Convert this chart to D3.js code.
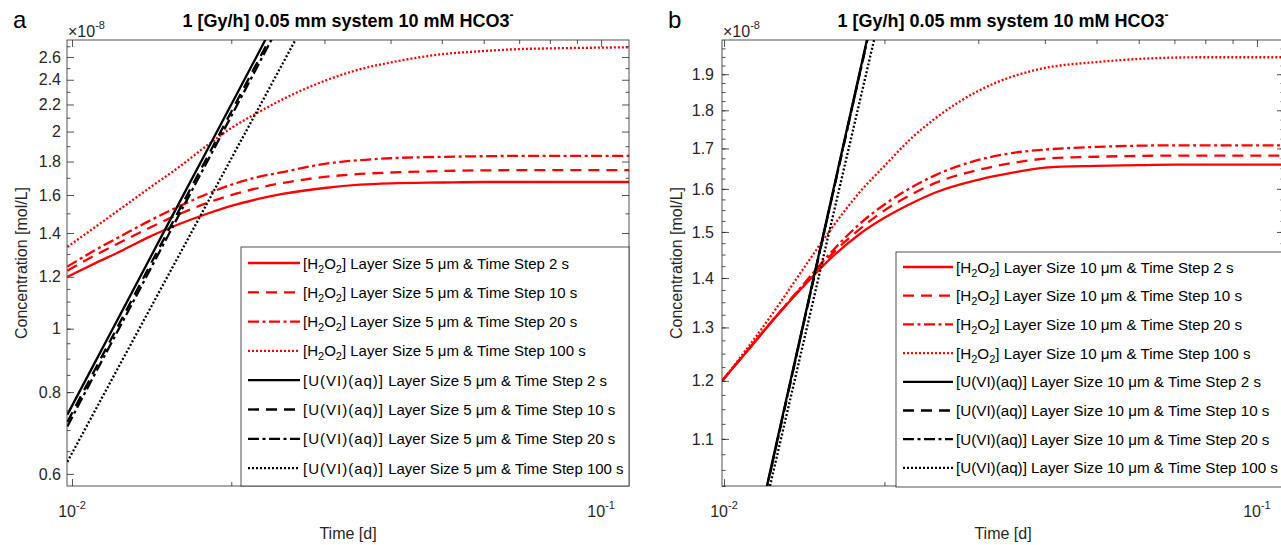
<!DOCTYPE html>
<html>
<head>
<meta charset="utf-8">
<script src="https://cdn.jsdelivr.net/npm/d3@7"></script>
<style>
  body { margin: 0; background: #fff; overflow: hidden; }
  svg { display: block; font-family: "Liberation Sans", Arial, Helvetica, sans-serif; }
</style>
</head>
<body>
<svg id="chart" width="1281" height="545"></svg>
<script>
// ---- data (concentrations in units of 1e-8 mol/L, time in days) ----
const timeSteps = [2, 10, 20, 100];
const layerSizes = ["5", "10"];

// panel a : 5 um layer
const tRedA = [0.0098, 0.011, 0.0125, 0.014, 0.016, 0.018, 0.02, 0.0225, 0.025, 0.03, 0.035, 0.04, 0.05, 0.06, 0.07, 0.08, 0.1, 0.113];
const h2o2A_2 = [1.200, 1.256, 1.319, 1.381, 1.446, 1.498, 1.540, 1.578, 1.606, 1.640, 1.659, 1.667, 1.672, 1.675, 1.675, 1.675, 1.675, 1.675];
const h2o2A_10 = [1.226, 1.292, 1.362, 1.425, 1.498, 1.556, 1.600, 1.640, 1.669, 1.705, 1.723, 1.732, 1.741, 1.745, 1.746, 1.746, 1.746, 1.746];
const h2o2A_20 = [1.244, 1.315, 1.391, 1.461, 1.540, 1.606, 1.659, 1.705, 1.734, 1.785, 1.809, 1.821, 1.830, 1.834, 1.836, 1.836, 1.836, 1.836];
const h2o2A_100 = [1.333, 1.425, 1.535, 1.640, 1.770, 1.905, 2.025, 2.140, 2.240, 2.390, 2.490, 2.550, 2.625, 2.655, 2.673, 2.680, 2.687, 2.690];

const tBlackA = [0.0098, 0.011, 0.0125, 0.015, 0.0175, 0.02, 0.0225, 0.025];
const uA_2 = [0.739, 0.882, 1.072, 1.418, 1.794, 2.200, 2.635, 3.100];
const uA_10 = [0.720, 0.860, 1.045, 1.383, 1.749, 2.145, 2.569, 3.020];
const uA_20 = [0.709, 0.847, 1.029, 1.361, 1.722, 2.112, 2.530, 2.976];
const tBlackA_100 = [0.0098, 0.011, 0.0125, 0.015, 0.0175, 0.02, 0.0225, 0.025, 0.0275];
const uA_100 = [0.626, 0.744, 0.901, 1.183, 1.489, 1.819, 2.168, 2.539, 2.928];

// panel b : 10 um layer
const tRedB = [0.00992, 0.011, 0.0125, 0.014, 0.016, 0.018, 0.02, 0.0225, 0.025, 0.03, 0.035, 0.04, 0.05, 0.06, 0.07, 0.08, 0.1, 0.113];
const h2o2B_2 = [1.200, 1.252, 1.320, 1.379, 1.446, 1.496, 1.532, 1.566, 1.592, 1.622, 1.640, 1.652, 1.656, 1.658, 1.659, 1.659, 1.659, 1.659];
const h2o2B_10 = [1.200, 1.253, 1.321, 1.381, 1.453, 1.507, 1.549, 1.587, 1.615, 1.646, 1.664, 1.674, 1.679, 1.681, 1.682, 1.682, 1.682, 1.682];
const h2o2B_20 = [1.200, 1.253, 1.321, 1.383, 1.459, 1.519, 1.563, 1.604, 1.634, 1.671, 1.689, 1.697, 1.704, 1.707, 1.708, 1.708, 1.708, 1.708];
const h2o2B_100 = [1.200, 1.257, 1.336, 1.415, 1.512, 1.593, 1.656, 1.727, 1.780, 1.853, 1.895, 1.918, 1.935, 1.944, 1.948, 1.949, 1.949, 1.949];

const tBlackB = [0.0115, 0.0125, 0.014, 0.016, 0.018, 0.0195];
const uB_2 = [0.955, 1.087, 1.295, 1.592, 1.910, 2.162];
const uB_10 = [0.954, 1.085, 1.293, 1.589, 1.906, 2.158];
const uB_20 = [0.953, 1.084, 1.292, 1.588, 1.905, 2.156];
const tBlackB_100 = [0.0115, 0.0125, 0.014, 0.016, 0.018, 0.02];
const uB_100 = [0.939, 1.063, 1.258, 1.535, 1.828, 2.138];

// tick labels
const xTicks = [0.01, 0.1];
const xMinor = [0.02, 0.03, 0.04, 0.05, 0.06, 0.07, 0.08, 0.09];
const yTicksA = [0.6, 0.8, 1, 1.2, 1.4, 1.6, 1.8, 2, 2.2, 2.4, 2.6];
const yTicksB = [1.1, 1.2, 1.3, 1.4, 1.5, 1.6, 1.7, 1.8, 1.9];

const titleText = "1 [Gy/h] 0.05 mm system 10 mM HCO3";

// ---- layout ----
const svg = d3.select("#chart");
const W = 562, H = 446;
const axisColor = "#262626";
const fontFam = '"Liberation Sans", Arial, Helvetica, sans-serif';
const dashes = [null, "11,7", "11,3.5,3,3.5", "2,2"];

const panels = [
  {
    id: "a", left: 67, top: 40, xDomain: [0.009785, 0.1129], yDomain: [0.575, 2.76],
    yTicks: yTicksA,
    yMinor: d3.range(0.65, 1.2, 0.05).concat(d3.range(1.3, 2.8, 0.2)),
    layer: layerSizes[0], labelPad: 6,
    red: [[tRedA, h2o2A_2], [tRedA, h2o2A_10], [tRedA, h2o2A_20], [tRedA, h2o2A_100]],
    black: [[tBlackA, uA_2], [tBlackA, uA_10], [tBlackA, uA_20], [tBlackA_100, uA_100]],
    legend: { x: 241, y: 247, w: 388, h: 239, row0: 263, rowH: 29.3, lineX: 248, lineW: 52, font: 15, ls: 1 }
  },
  {
    id: "b", left: 722, top: 40, xDomain: [0.009914, 0.1124], yDomain: [1.025, 2.0],
    yTicks: yTicksB,
    yMinor: d3.range(1.025, 2.0, 0.025),
    layer: layerSizes[1], labelPad: 8,
    red: [[tRedB, h2o2B_2], [tRedB, h2o2B_10], [tRedB, h2o2B_20], [tRedB, h2o2B_100]],
    black: [[tBlackB, uB_2], [tBlackB, uB_10], [tBlackB, uB_20], [tBlackB_100, uB_100]],
    legend: { x: 896, y: 252, w: 420, h: 235, row0: 267, rowH: 28.7, lineX: 903, lineW: 50, font: 15.2, ls: 0 }
  }
];

panels.forEach(drawPanel);

function drawPanel(p) {
  const x = d3.scaleLog().domain(p.xDomain).range([p.left, p.left + W]);
  const y = d3.scaleLog().domain(p.yDomain).range([p.top + H, p.top]);
  const g = svg.append("g");

  // clip for the curves
  g.append("clipPath").attr("id", "clip-" + p.id)
    .append("rect").attr("x", p.left).attr("y", p.top).attr("width", W).attr("height", H);

  const line = d3.line()
    .x(d => x(d[0]))
    .y(d => y(d[1]))
    .curve(d3.curveMonotoneX);

  const series = [];
  p.red.forEach((s, i) => series.push({ t: s[0], c: s[1], color: "#ff0000", dash: dashes[i] }));
  p.black.forEach((s, i) => series.push({ t: s[0], c: s[1], color: "#000000", dash: dashes[i] }));

  const curves = g.append("g").attr("clip-path", `url(#clip-${p.id})`);
  curves.selectAll("path")
    .data(series)
    .join("path")
      .attr("d", s => line(s.t.map((t, i) => [t, s.c[i]])))
      .attr("fill", "none")
      .attr("stroke", s => s.color)
      .attr("stroke-width", 2.3)
      .attr("stroke-dasharray", s => s.dash);

  // axes (ticks pointing inward, box style)
  const axG = g.append("g").attr("color", axisColor);
  const addAxis = (axis, tx, ty) => axG.append("g")
    .attr("transform", `translate(${tx},${ty})`)
    .call(axis)
    .attr("font-size", 16)
    .attr("font-family", fontFam);

  addAxis(d3.axisBottom(x).tickValues(xMinor).tickSize(-4).tickFormat(""), 0, p.top + H);
  addAxis(d3.axisTop(x).tickValues(xMinor).tickSize(-4).tickFormat(""), 0, p.top);
  addAxis(d3.axisBottom(x).tickValues(xTicks).tickSize(-7).tickFormat(""), 0, p.top + H);
  addAxis(d3.axisTop(x).tickValues(xTicks).tickSize(-7).tickFormat(""), 0, p.top);

  addAxis(d3.axisLeft(y).tickValues(p.yMinor).tickSize(-3.5).tickFormat(""), p.left, 0);
  addAxis(d3.axisRight(y).tickValues(p.yMinor).tickSize(-3.5).tickFormat(""), p.left + W, 0);
  addAxis(d3.axisLeft(y).tickValues(p.yTicks).tickSize(-7).tickPadding(p.labelPad)
    .tickFormat(d => String(+d.toFixed(2))), p.left, 0);
  addAxis(d3.axisRight(y).tickValues(p.yTicks).tickSize(-7).tickFormat(""), p.left + W, 0);

  axG.selectAll(".domain").remove();
  axG.selectAll(".tick line").attr("stroke-width", 0.8);
  axG.selectAll(".tick text").attr("fill", axisColor);

  // box
  g.append("rect")
    .attr("x", p.left).attr("y", p.top).attr("width", W).attr("height", H)
    .attr("fill", "none").attr("stroke", axisColor).attr("stroke-width", 0.8);

  // x tick labels 10^n
  const xl = g.append("g").attr("fill", axisColor);
  xTicks.forEach(v => {
    const txt = xl.append("text")
      .attr("x", x(v)).attr("y", 517)
      .attr("text-anchor", "middle").attr("font-size", 16);
    txt.append("tspan").text("10");
    txt.append("tspan").attr("font-size", 11).attr("dy", -8)
      .text(String(Math.round(Math.log10(v))));
  });

  // exponent marker
  const ex = g.append("text").attr("x", p.left + 1).attr("y", 37)
    .attr("fill", axisColor).attr("font-size", 16);
  ex.append("tspan").text("\u00d710");
  ex.append("tspan").attr("font-size", 11).attr("dy", -8).text("-8");

  // axis labels
  const cx = p.left + W / 2;
  g.append("text").attr("x", cx).attr("y", 539)
    .attr("text-anchor", "middle").attr("font-size", 16).attr("fill", axisColor)
    .text("Time [d]");
  g.append("text")
    .attr("transform", `translate(${p.left - 40},${p.top + H / 2}) rotate(-90)`)
    .attr("text-anchor", "middle").attr("font-size", 16).attr("fill", axisColor)
    .text("Concentration [mol/L]");

  // title
  const tt = g.append("text").attr("x", cx).attr("y", 27)
    .attr("text-anchor", "middle").attr("font-size", 18).attr("font-weight", "bold")
    .attr("fill", "#000");
  tt.append("tspan").text(titleText);
  tt.append("tspan").attr("font-size", 12).attr("dy", -8).text("-");

  // panel letter
  g.append("text").attr("x", p.left - 54).attr("y", 28)
    .attr("font-size", 24).attr("fill", "#000").text(p.id);

  // legend
  const L = p.legend;
  const lg = g.append("g");
  lg.append("rect")
    .attr("x", L.x).attr("y", L.y).attr("width", L.w).attr("height", L.h)
    .attr("fill", "#fff").attr("stroke", axisColor).attr("stroke-width", 0.8);

  series.forEach((s, i) => {
    const ry = L.row0 + i * L.rowH;
    lg.append("line")
      .attr("x1", L.lineX).attr("x2", L.lineX + L.lineW)
      .attr("y1", ry).attr("y2", ry)
      .attr("stroke", s.color).attr("stroke-width", 2.3)
      .attr("stroke-dasharray", s.dash);
    const txt = lg.append("text")
      .attr("x", L.lineX + L.lineW + 3).attr("y", ry + 5.5)
      .attr("font-size", L.font).attr("fill", "#000");
    const rest = ` Layer Size ${p.layer} \u03bcm & Time Step ${timeSteps[i % 4]} s`;
    if (i < 4) {
      txt.append("tspan").text("[H");
      txt.append("tspan").attr("font-size", 11).attr("dy", 4).text("2");
      txt.append("tspan").attr("dy", -4).text("O");
      txt.append("tspan").attr("font-size", 11).attr("dy", 4).text("2");
      txt.append("tspan").attr("dy", -4).text("]" + rest);
    } else {
      txt.append("tspan").attr("letter-spacing", L.ls).text("[U(VI)(aq)]");
      txt.append("tspan").attr("letter-spacing", 0).text(rest);
    }
  });
}
</script>
</body>
</html>
